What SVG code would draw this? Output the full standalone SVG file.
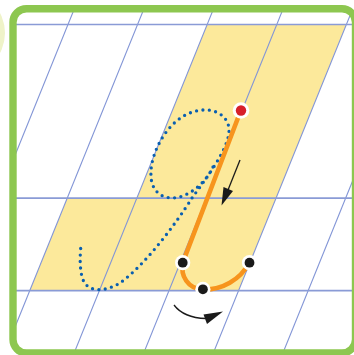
<svg xmlns="http://www.w3.org/2000/svg" width="354" height="355" viewBox="0 0 354 355">
<defs>
<style>
.band{fill:#fce99b}
.hl{stroke:#8a9bd6;stroke-width:1.7;fill:none}
.sl{stroke:#8295d6;stroke-width:1.1;fill:none}
.guide{fill:none;stroke:#0a5fb0;stroke-width:3.3;stroke-linecap:round;stroke-dasharray:0 6.4}
.stroke{fill:none;stroke:#f7941d;stroke-width:4.6;stroke-linecap:round;stroke-linejoin:round}
.ring{fill:#ffffff}
.pt{fill:#1a1a1a}
.arr{fill:none;stroke:#1a1a1a;stroke-width:1.3}
</style>
<clipPath id="inner"><rect x="13" y="8.7" width="342.5" height="344.3" rx="13.5"/></clipPath>
</defs>
<rect width="354" height="355" fill="#ffffff"/>
<circle id="tab" cx="-37.5" cy="33" r="42.5" fill="#eff3c9"/>
<g id="paper" clip-path="url(#inner)">
<rect x="13" y="8.7" width="342.5" height="344.3" fill="#ffffff"/>
<polygon class="band" points="206.9,25 346.1,25 276.1,198 136.9,198"/>
<polygon class="band" points="67.3,198 276.1,198 238.5,290.7 29.7,290.7"/>
<g id="slants">
<line class="sl" x1="77.9" y1="0" x2="-65.9" y2="355"/>
<line class="sl" x1="147.5" y1="0" x2="3.7" y2="355"/>
<line class="sl" x1="217.1" y1="0" x2="73.3" y2="355"/>
<line class="sl" x1="286.7" y1="0" x2="142.9" y2="355"/>
<line class="sl" x1="356.3" y1="0" x2="212.5" y2="355"/>
<line class="sl" x1="425.9" y1="0" x2="282.1" y2="355"/>
<line class="sl" x1="495.5" y1="0" x2="351.7" y2="355"/>
</g>
<g id="rules">
<line class="hl" x1="13" y1="24.5" x2="356" y2="24.5"/>
<line class="hl" x1="13" y1="198.2" x2="356" y2="198.2"/>
<line class="hl" x1="13" y1="290.7" x2="356" y2="290.7"/>
</g>
</g>
<rect id="frame" x="13" y="8.7" width="342.5" height="344.3" rx="13.5" fill="none" stroke="#8dc750" stroke-width="7.4"/>
<g id="connectors">
<path id="guide-g" class="guide" d="M213,167 C206,182 190,197 173,198 C157,198 150,186 151,172 C151,152 170,112 203,110 C220,109 230,120 229,132 C228,150 205,180 192,198 C175,225 145,265 120,283 C105,292 90,292 84,282 C79,272 80,255 81,245"/>
<path id="stroke-g" class="stroke" d="M241,110 L183,262 C180,276 188,289 203,289.5 C222,290 240,280 249.5,262.5"/>
<g id="arrow-down">
<line class="arr" x1="240" y1="160" x2="228" y2="190"/>
<polygon fill="#1a1a1a" points="221.5,205.5 223.5,187 233,191"/>
</g>
<g id="arrow-curve">
<path class="arr" d="M174,305 C180,313 190,318 206,318.5"/>
<polygon fill="#1a1a1a" points="223,311.5 203.5,314.5 207,324"/>
</g>
</g>
<g id="start-point">
<circle class="ring" cx="241" cy="110.5" r="8.3"/>
<circle cx="241" cy="110.5" r="5.2" fill="#d7202a"/>
</g>
<g id="point-left">
<circle class="ring" cx="182.7" cy="262.7" r="7.6"/>
<circle class="pt" cx="182.7" cy="262.7" r="4.9"/>
</g>
<g id="point-bottom">
<circle class="ring" cx="202.9" cy="289.3" r="7.6"/>
<circle class="pt" cx="202.9" cy="289.3" r="4.9"/>
</g>
<g id="point-right">
<circle class="ring" cx="249.5" cy="262.7" r="7.6"/>
<circle class="pt" cx="249.5" cy="262.7" r="4.9"/>
</g>
</svg>
